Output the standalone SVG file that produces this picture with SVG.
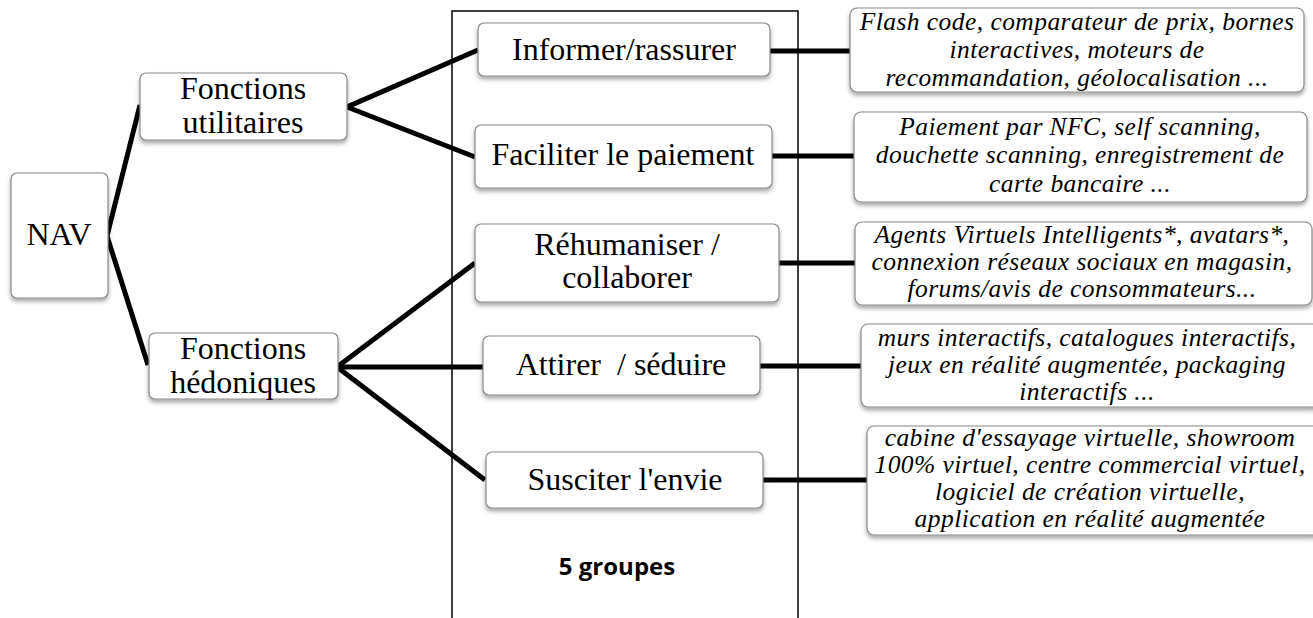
<svg xmlns="http://www.w3.org/2000/svg" width="1313" height="618" viewBox="0 0 1313 618">
<defs>
<filter id="sh" x="-10%" y="-20%" width="120%" height="150%">
<feDropShadow dx="0" dy="3" stdDeviation="2" flood-color="#000" flood-opacity="0.35"/>
</filter>
</defs>
<style>
.box{fill:#fff;stroke:#8a8a8a;stroke-width:1.2;filter:url(#sh)}
.t{font-family:"Liberation Serif","Times New Roman",serif;font-size:32px;fill:#000;text-anchor:middle}
.i{font-family:"Liberation Serif","Times New Roman",serif;font-size:25.5px;letter-spacing:0.45px;font-style:italic;fill:#000;text-anchor:middle}
.c{stroke:#000;stroke-width:5;fill:none;stroke-linejoin:miter}
.frame{fill:none;stroke:#000;stroke-width:1.5}
.b{font-family:"Open Sans","Noto Sans",sans-serif;font-weight:bold;font-size:24px;fill:#000;text-anchor:middle}
</style>
<rect class="frame" x="452" y="11" width="346" height="620"/>
<g id="connectors">
<polyline class="c" points="140,105 107,236 148,365"/>
<polyline class="c" points="478,50 347,107 475,157"/>
<polyline class="c" points="475,263 337,367 485,480"/>
<line class="c" x1="337" y1="367" x2="483" y2="367"/>
<line class="c" x1="770" y1="51" x2="851" y2="51"/>
<line class="c" x1="772" y1="156" x2="855" y2="156"/>
<line class="c" x1="779" y1="263" x2="856" y2="263"/>
<line class="c" x1="760" y1="366" x2="862" y2="366"/>
<line class="c" x1="763" y1="480" x2="868" y2="480"/>
</g>
<g id="nav"><rect class="box" x="11" y="173" width="97" height="125" rx="6"/><text class="t" x="59" y="245">NAV</text></g>
<g id="utilitaires"><rect class="box" x="140" y="73" width="207" height="67" rx="6"/><text class="t" x="243" y="99">Fonctions</text><text class="t" x="243" y="133">utilitaires</text></g>
<g id="hedoniques"><rect class="box" x="149" y="333" width="189" height="66" rx="6"/><text class="t" x="243" y="359">Fonctions</text><text class="t" x="243" y="393">hédoniques</text></g>
<g id="informer"><rect class="box" x="478" y="23" width="292" height="53" rx="6"/><text class="t" x="624" y="60">Informer/rassurer</text></g>
<g id="faciliter"><rect class="box" x="475" y="125" width="297" height="63" rx="6"/><text class="t" x="623" y="165">Faciliter le paiement</text></g>
<g id="rehumaniser"><rect class="box" x="475" y="224" width="304" height="78" rx="6"/><text class="t" x="627" y="255">Réhumaniser /</text><text class="t" x="627" y="288">collaborer</text></g>
<g id="attirer"><rect class="box" x="483" y="336" width="277" height="59" rx="6"/><text class="t" x="621" y="375" xml:space="preserve">Attirer  / séduire</text></g>
<g id="susciter"><rect class="box" x="486" y="452" width="277" height="56" rx="6"/><text class="t" x="625" y="490">Susciter l'envie</text></g>
<g id="ex1"><rect class="box" x="850" y="8" width="454" height="84" rx="7"/><text class="i" x="1077" y="30">Flash code, comparateur de prix, bornes</text><text class="i" x="1077" y="58">interactives, moteurs de</text><text class="i" x="1077" y="86">recommandation, géolocalisation ...</text></g>
<g id="ex2"><rect class="box" x="854" y="112" width="453" height="90" rx="7"/><text class="i" x="1080" y="135">Paiement par NFC, self scanning,</text><text class="i" x="1080" y="163">douchette scanning, enregistrement de</text><text class="i" x="1080" y="192">carte bancaire ...</text></g>
<g id="ex3"><rect class="box" x="855" y="222" width="457" height="83" rx="7"/><text class="i" x="1082" y="243">Agents Virtuels Intelligents*, avatars*,</text><text class="i" x="1082" y="270">connexion réseaux sociaux en magasin,</text><text class="i" x="1082" y="297">forums/avis de consommateurs...</text></g>
<g id="ex4"><rect class="box" x="861" y="324" width="460" height="83" rx="7"/><text class="i" x="1087" y="346">murs interactifs, catalogues interactifs,</text><text class="i" x="1087" y="373">jeux en réalité augmentée, packaging</text><text class="i" x="1087" y="400">interactifs ...</text></g>
<g id="ex5"><rect class="box" x="867" y="426" width="455" height="109" rx="7"/><text class="i" x="1090" y="446">cabine d'essayage virtuelle, showroom</text><text class="i" x="1090" y="473">100% virtuel, centre commercial virtuel,</text><text class="i" x="1090" y="500">logiciel de création virtuelle,</text><text class="i" x="1090" y="527">application en réalité augmentée</text></g>
<g id="label"><text class="b" x="617" y="575">5 groupes</text></g>
</svg>
